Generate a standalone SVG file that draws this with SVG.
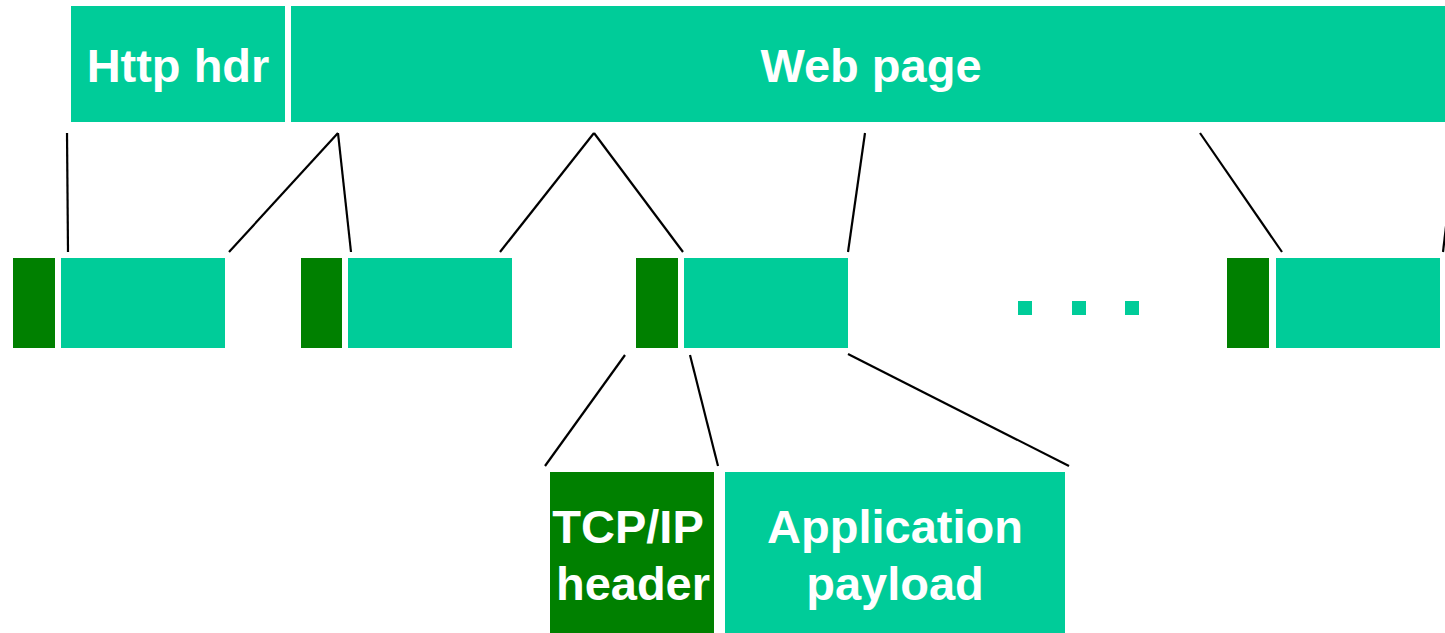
<svg xmlns="http://www.w3.org/2000/svg" width="1445" height="633" viewBox="0 0 1445 633">
<style>
.t{fill:#00CC99}
.d{fill:#008000}
.lbl{font-family:"Liberation Sans",Arial,sans-serif;font-weight:bold;font-size:47px;fill:#FFFFFF;text-anchor:middle}
.c line{stroke:#000;stroke-width:2.2}
</style>
<rect width="1445" height="633" fill="#FFFFFF"/>
<g id="http-hdr"><rect class="t" x="71" y="6" width="214" height="116"/><text class="lbl" x="178" y="82">Http hdr</text></g>
<g id="web-page"><rect class="t" x="291" y="6" width="1154" height="116"/><text class="lbl" x="871" y="82">Web page</text></g>
<g id="packet1"><rect class="d" x="13" y="258" width="42" height="90"/><rect class="t" x="61" y="258" width="164" height="90"/></g>
<g id="packet2"><rect class="d" x="301" y="258" width="41" height="90"/><rect class="t" x="348" y="258" width="164" height="90"/></g>
<g id="packet3"><rect class="d" x="636" y="258" width="42" height="90"/><rect class="t" x="684" y="258" width="164" height="90"/></g>
<g id="ellipsis"><rect class="t" x="1018" y="301" width="14" height="14"/><rect class="t" x="1072" y="301" width="14" height="14"/><rect class="t" x="1125" y="301" width="14" height="14"/></g>
<g id="packet4"><rect class="d" x="1227" y="258" width="42" height="90"/><rect class="t" x="1276" y="258" width="164" height="90"/></g>
<g id="tcpip-header"><rect class="d" x="550" y="472" width="164" height="161"/><text class="lbl" x="628" y="543">TCP/IP</text><text class="lbl" x="633" y="600">header</text></g>
<g id="app-payload"><rect class="t" x="725" y="472" width="340" height="161"/><text class="lbl" x="895" y="543">Application</text><text class="lbl" x="895" y="600">payload</text></g>
<g id="connectors" class="c">
<line x1="67" y1="133" x2="68" y2="252"/>
<line x1="338" y1="133" x2="229" y2="252"/>
<line x1="338" y1="133" x2="351" y2="252"/>
<line x1="594" y1="133" x2="500" y2="252"/>
<line x1="594" y1="133" x2="683" y2="252"/>
<line x1="865" y1="133" x2="848" y2="252"/>
<line x1="1200" y1="133" x2="1282" y2="252"/>
<line x1="1447" y1="218" x2="1443" y2="252"/>
<line x1="625" y1="355" x2="545" y2="466"/>
<line x1="690" y1="355" x2="718" y2="466"/>
<line x1="848" y1="354" x2="1069" y2="466"/>
</g>
</svg>
